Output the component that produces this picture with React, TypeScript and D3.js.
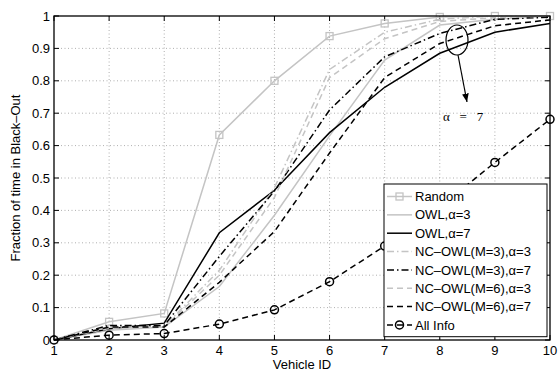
import React from "react";
import * as d3 from "d3";

const vehicles = [1, 2, 3, 4, 5, 6, 7, 8, 9, 10];
const randomVals = [0, 0.056, 0.082, 0.633, 0.8, 0.938, 0.977, 0.997, 1.0, 1.0];
const owl3 = [0, 0.03, 0.04, 0.165, 0.385, 0.63, 0.864, 0.972, 0.99, 1.0];
const owl7 = [0, 0.035, 0.052, 0.331, 0.462, 0.64, 0.78, 0.885, 0.95, 0.977];
const nc33 = [0, 0.04, 0.042, 0.215, 0.47, 0.835, 0.95, 0.99, 1.0, 1.0];
const nc37 = [0, 0.045, 0.045, 0.258, 0.46, 0.71, 0.874, 0.946, 0.99, 0.996];
const nc63 = [0, 0.036, 0.04, 0.2, 0.44, 0.81, 0.93, 0.983, 0.995, 1.0];
const nc67 = [0, 0.04, 0.04, 0.178, 0.335, 0.577, 0.81, 0.915, 0.97, 0.988];
const allInfo = [0, 0.015, 0.02, 0.049, 0.093, 0.18, 0.29, 0.41, 0.548, 0.681];
const yTicks = [0, 0.1, 0.2, 0.3, 0.4, 0.5, 0.6, 0.7, 0.8, 0.9, 1];
const yTickLabels = ["0", "0.1", "0.2", "0.3", "0.4", "0.5", "0.6", "0.7", "0.8", "0.9", "1"];

const LIGHT = "#c4c4c4";
const DASH = "6,4";
const DASHDOT = "7,3,1.5,3";

type Series = { name: string; values: number[]; color: string; dash?: string; marker?: "square" | "circle" };

const series: Series[] = [
  { name: "Random", values: randomVals, color: LIGHT, marker: "square" },
  { name: "OWL,α=3", values: owl3, color: LIGHT },
  { name: "OWL,α=7", values: owl7, color: "#000" },
  { name: "NC–OWL(M=3),α=3", values: nc33, color: LIGHT, dash: DASHDOT },
  { name: "NC–OWL(M=3),α=7", values: nc37, color: "#000", dash: DASHDOT },
  { name: "NC–OWL(M=6),α=3", values: nc63, color: LIGHT, dash: DASH },
  { name: "NC–OWL(M=6),α=7", values: nc67, color: "#000", dash: DASH },
  { name: "All Info", values: allInfo, color: "#000", dash: DASH, marker: "circle" },
];

const W = 558, H = 372;
const L = 54, R = 550, T = 16, B = 340;
const FONT = "'Liberation Sans', Arial, Helvetica, sans-serif";

export default function App() {
  const x = d3.scaleLinear().domain([1, 10]).range([L, R]);
  const y = d3.scaleLinear().domain([0, 1]).range([B, T]);
  const line = d3.line<number>().x((_, i) => x(vehicles[i])).y((d) => y(d));

  const marker = (s: Series, cx: number, cy: number, key: string) =>
    s.marker === "square" ? (
      <rect key={key} x={cx - 3.5} y={cy - 3.5} width={7} height={7} fill="none" stroke={s.color} strokeWidth={1.3} />
    ) : s.marker === "circle" ? (
      <circle key={key} cx={cx} cy={cy} r={4} fill="none" stroke={s.color} strokeWidth={1.5} />
    ) : null;

  const legX = 384, legY = 184, legW = 163, legH = 152.7, rowH = 18.35;

  return (
    <svg width={W} height={H} style={{ position: "absolute", left: 0, top: 0, background: "#fff" }} fontFamily={FONT}>
      <rect x={0} y={0} width={W} height={H} fill="#fff" />
      {/* grid */}
      {vehicles.slice(1, -1).map((v) => (
        <line key={"gx" + v} x1={x(v)} x2={x(v)} y1={T} y2={B} stroke="#9a9a9a" strokeWidth={0.8} strokeDasharray="1,2.5" />
      ))}
      {yTicks.slice(1, -1).map((t) => (
        <line key={"gy" + t} x1={L} x2={R} y1={y(t)} y2={y(t)} stroke="#9a9a9a" strokeWidth={0.8} strokeDasharray="1,2.5" />
      ))}
      {/* ticks */}
      {vehicles.map((v) => (
        <g key={"tx" + v}>
          <line x1={x(v)} x2={x(v)} y1={B} y2={B - 5} stroke="#000" />
          <line x1={x(v)} x2={x(v)} y1={T} y2={T + 5} stroke="#000" />
          <text x={x(v)} y={354.5} textAnchor="middle" fontSize={13}>{v}</text>
        </g>
      ))}
      {yTicks.map((t, i) => (
        <g key={"ty" + t}>
          <line x1={L} x2={L + 5} y1={y(t)} y2={y(t)} stroke="#000" />
          <line x1={R} x2={R - 5} y1={y(t)} y2={y(t)} stroke="#000" />
          <text x={50} y={y(t) + 4.6} textAnchor="end" fontSize={13}>{yTickLabels[i]}</text>
        </g>
      ))}
      {/* series */}
      {series.map((s) => (
        <g key={s.name}>
          <path d={line(s.values) || ""} fill="none" stroke={s.color} strokeWidth={1.5} strokeDasharray={s.dash} />
          {s.marker && s.values.map((v, i) => marker(s, x(vehicles[i]), y(v), s.name + i))}
        </g>
      ))}
      {/* frame */}
      <rect x={L} y={T} width={R - L} height={B - T} fill="none" stroke="#000" strokeWidth={1.3} />
      {/* annotation */}
      <ellipse cx={457} cy={40} rx={11} ry={15} fill="none" stroke="#000" strokeWidth={1.2} />
      <defs>
        <marker id="arr" viewBox="0 0 10 10" refX={10} refY={5} markerWidth={7} markerHeight={7} orient="auto">
          <path d="M0,1 L10,5 L0,9 z" fill="#000" />
        </marker>
      </defs>
      <line x1={458} y1={55} x2={467} y2={102} stroke="#000" strokeWidth={1.2} markerEnd="url(#arr)" />
      <text x={443} y={121} fontSize={13} fontFamily="'Liberation Serif', 'Times New Roman', serif" xmlSpace="preserve">α   =   7</text>
      {/* legend */}
      <rect x={legX} y={legY} width={legW} height={legH} fill="#fff" stroke="#000" strokeWidth={1} />
      {series.map((s, i) => {
        const cy = legY + 12.5 + i * rowH;
        return (
          <g key={"leg" + s.name}>
            <line x1={387} x2={412} y1={cy} y2={cy} stroke={s.color} strokeWidth={1.5} strokeDasharray={s.dash} />
            {marker(s, 399.5, cy, "lm" + i)}
            <text x={415} y={cy + 4.6} fontSize={13}>{s.name}</text>
          </g>
        );
      })}
      {/* axis titles */}
      <text x={(L + R) / 2} y={368.5} textAnchor="middle" fontSize={13}>Vehicle ID</text>
      <text transform={`translate(20,${(T + B) / 2}) rotate(-90)`} textAnchor="middle" fontSize={13}>Fraction of time in Black–Out</text>
    </svg>
  );
}
